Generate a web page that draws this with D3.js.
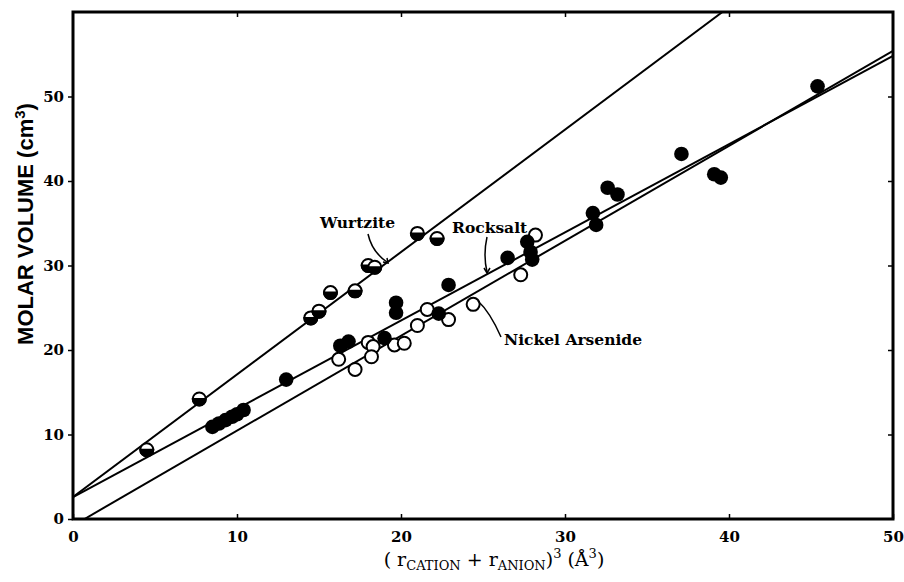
<!DOCTYPE html>
<html>
<head>
<meta charset="utf-8">
<script src="https://cdn.jsdelivr.net/npm/d3@7"></script>
<style>
  body { margin: 0; background: #fff; }
  svg { display: block; }
</style>
</head>
<body>
<svg id="chart" width="904" height="582"></svg>
<script>
// values: [ (r_cation + r_anion)^3 , molar volume ]
var wurtzitePts = [[4.5, 8.2], [7.7, 14.2], [14.5, 23.8], [15.0, 24.6], [15.7, 26.8], [17.2, 27.0],
  [18.0, 30.0], [18.4, 29.8], [21.0, 33.8], [22.2, 33.2]]
var rocksaltPts = [[8.5, 10.9], [8.9, 11.3], [9.3, 11.7], [9.7, 12.1], [10.0, 12.4], [10.4, 12.9],
  [13.0, 16.5], [16.3, 20.5], [16.8, 21.0], [19.0, 21.4], [19.7, 25.6], [19.7, 24.4], [22.3, 24.3],
  [22.9, 27.7], [26.5, 30.9], [27.7, 32.8], [27.9, 31.6], [28.0, 30.7], [31.7, 36.2], [31.9, 34.8],
  [32.6, 39.2], [33.2, 38.4], [37.1, 43.2], [39.1, 40.8], [39.5, 40.4], [45.4, 51.2]]
var nickelPts = [[16.2, 18.9], [17.2, 17.7], [18.0, 20.9], [18.3, 20.4], [18.2, 19.2], [19.6, 20.6],
  [20.2, 20.8], [21.0, 22.9], [21.6, 24.8], [22.9, 23.6], [24.4, 25.4], [27.3, 28.9], [28.2, 33.6]]

// fitted lines, as end points
var wurtziteFit = [[0, 2.6], [39.6, 60]]
var rocksaltFit = [[0, 2.6], [50, 54.8]]
var nickelFit = [[0.7, 0], [50, 55.4]]

var xTicks = [0, 10, 20, 30, 40, 50]
var yTicks = [0, 10, 20, 30, 40, 50]

var svg = d3.select("#chart")
var pl = 73, pr = 893, pt = 12, pb = 519
var x = d3.scaleLinear().domain([0, 50]).range([pl, pr])
var y = d3.scaleLinear().domain([0, 60]).range([pb, pt])
var serif = "'DejaVu Serif', serif"
var r = 6.5

svg.append("defs").append("clipPath").attr("id", "plot-clip")
  .append("rect").attr("x", pl).attr("y", pt).attr("width", pr - pl).attr("height", pb - pt)

// fit lines
var line = d3.line().x(d => x(d[0])).y(d => y(d[1]))
svg.append("g").attr("clip-path", "url(#plot-clip)")
  .selectAll("path.fit")
  .data([wurtziteFit, rocksaltFit, nickelFit])
  .join("path")
  .attr("class", "fit")
  .attr("d", line)
  .attr("fill", "none")
  .attr("stroke", "#000")
  .attr("stroke-width", 2)

// axes, ticks inside except left side
var yAxis = d3.axisLeft(y).tickValues(yTicks).tickSize(5).tickPadding(4)
var xAxis = d3.axisBottom(x).tickValues(xTicks).tickSize(-5).tickPadding(12)
var gy = svg.append("g").attr("transform", "translate(" + pl + ",0)").call(yAxis)
var gx = svg.append("g").attr("transform", "translate(0," + pb + ")").call(xAxis)
svg.append("g").attr("transform", "translate(0," + pt + ")")
  .call(d3.axisTop(x).tickValues([10, 20, 30, 40]).tickSize(-5).tickFormat(""))
svg.append("g").attr("transform", "translate(" + pr + ",0)")
  .call(d3.axisRight(y).tickValues([10, 20, 30, 40, 50]).tickSize(-5).tickFormat(""))
svg.selectAll(".domain").remove()
svg.selectAll(".tick line").attr("stroke", "#000").attr("stroke-width", 1.5)
svg.selectAll(".tick text")
  .attr("font-family", serif).attr("font-weight", "bold").attr("font-size", 15).attr("fill", "#000")
gx.selectAll(".tick text").attr("dy", "0.71em")

svg.append("rect")
  .attr("x", pl).attr("y", pt).attr("width", pr - pl).attr("height", pb - pt)
  .attr("fill", "none").attr("stroke", "#000").attr("stroke-width", 3)

// markers
var marks = svg.append("g")
marks.selectAll("circle.ni")
  .data(nickelPts)
  .join("circle")
  .attr("class", "ni")
  .attr("cx", d => x(d[0])).attr("cy", d => y(d[1])).attr("r", r)
  .attr("fill", "#fff").attr("stroke", "#000").attr("stroke-width", 2)

marks.selectAll("circle.rs")
  .data(rocksaltPts)
  .join("circle")
  .attr("class", "rs")
  .attr("cx", d => x(d[0])).attr("cy", d => y(d[1])).attr("r", r + 0.8)
  .attr("fill", "#000")

var wz = marks.selectAll("g.wz")
  .data(wurtzitePts)
  .join("g")
  .attr("class", "wz")
  .attr("transform", d => "translate(" + x(d[0]) + "," + y(d[1]) + ")")
wz.append("circle").attr("r", r).attr("fill", "#fff").attr("stroke", "#000").attr("stroke-width", 2)
wz.append("path")
  .attr("d", "M" + (-r) + ",0 A" + r + "," + r + " 0 0 0 " + r + ",0 Z")
  .attr("fill", "#000").attr("stroke", "#000").attr("stroke-width", 2)

// labels with pointers
var labels = svg.append("g")
  .attr("font-family", serif).attr("font-weight", "bold").attr("font-size", 15.5).attr("fill", "#000")
labels.append("text").attr("x", 320).attr("y", 228).text("Wurtzite")
labels.append("text").attr("x", 452).attr("y", 233).text("Rocksalt")
labels.append("text").attr("x", 504).attr("y", 345).text("Nickel Arsenide")

svg.append("path").attr("d", "M368,234 Q372,252 387,262")
  .attr("fill", "none").attr("stroke", "#000").attr("stroke-width", 1.5)
svg.append("path").attr("d", "M383,262 L388,263 L387,258")
  .attr("fill", "none").attr("stroke", "#000").attr("stroke-width", 1.5)
svg.append("path").attr("d", "M487,237 Q483,255 487,272")
  .attr("fill", "none").attr("stroke", "#000").attr("stroke-width", 1.5)
svg.append("path").attr("d", "M484,268 L487,273 L490,268")
  .attr("fill", "none").attr("stroke", "#000").attr("stroke-width", 1.5)
svg.append("path").attr("d", "M501,337 Q490,312 478,301")
  .attr("fill", "none").attr("stroke", "#000").attr("stroke-width", 1.5)

// axis titles
svg.append("text")
  .attr("transform", "translate(33,224) rotate(-90)")
  .attr("text-anchor", "middle")
  .attr("font-family", "'Liberation Sans', Arial, sans-serif")
  .attr("font-weight", "bold").attr("font-size", 22)
  .html("MOLAR VOLUME (cm<tspan font-size='15' dy='-8'>3</tspan><tspan dy='8'>)</tspan>")

var xt = svg.append("text")
  .attr("x", 494).attr("y", 566)
  .attr("text-anchor", "middle")
  .attr("font-family", serif).attr("font-size", 19)
xt.append("tspan").text("( r")
xt.append("tspan").attr("font-size", 13).attr("dy", 4).text("CATION")
xt.append("tspan").attr("dy", -4).text(" + r")
xt.append("tspan").attr("font-size", 13).attr("dy", 4).text("ANION")
xt.append("tspan").attr("dy", -4).text(")")
xt.append("tspan").attr("font-size", 13).attr("dy", -8).text("3")
xt.append("tspan").attr("dy", 8).text(" (Å")
xt.append("tspan").attr("font-size", 13).attr("dy", -8).text("3")
xt.append("tspan").attr("dy", 8).text(")")
</script>
</body>
</html>
